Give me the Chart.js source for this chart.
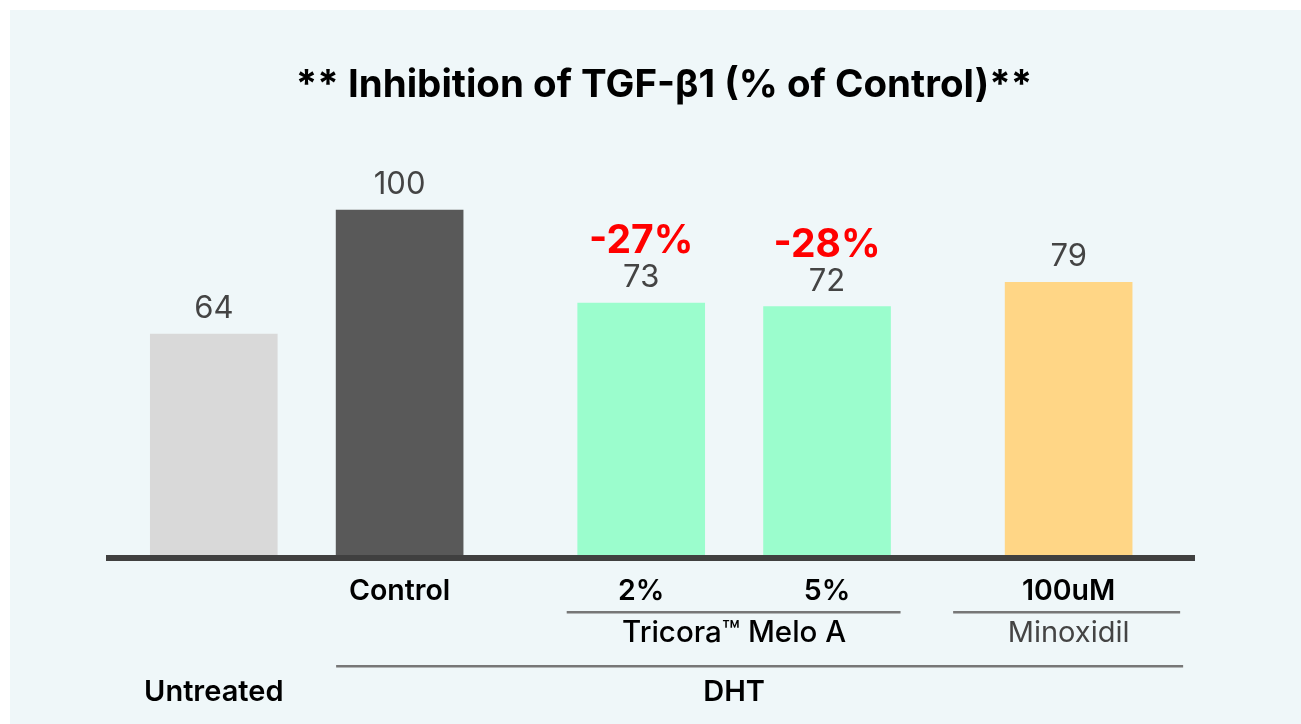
<!DOCTYPE html>
<html>
<head>
<meta charset="utf-8">
<script src="https://cdn.jsdelivr.net/npm/chart.js@4"></script>
<style>
  html, body { margin: 0; padding: 0; background: #ffffff; }
  #wrap { position: absolute; left: 10px; top: 10px; width: 1291px; height: 714px; background: #eff7f9; }
</style>
</head>
<body>
<div id="wrap"><canvas id="myChart" width="1291" height="714"></canvas></div>
<script>
// data
const tickLabels = ["", "Control", "2%", "5%", "100uM"];
const values = [64, 100, 73, 72, 79];
const changeLabels = ["", "", "-27%", "-28%", ""];
const subgroups = ["", "", "Tricora\u2122 Melo A", "Tricora\u2122 Melo A", "Minoxidil"];
const treatments = ["Untreated", "DHT", "DHT", "DHT", "DHT"];
const barColors = ["#d9d9d9", "#595959", "#9bfdcd", "#9bfdcd", "#ffd686"];
const title = "** Inhibition of TGF-\u03b21 (% of Control)**";

const FONT = "Inter, 'Noto Sans', sans-serif";

// x position of each bar: one unit per bar, extra gap when a new sub-group starts
const GROUP_GAP = 0.3;
let xs = [];
let pos = 0;
values.forEach((v, i) => {
    if (i > 0) {
        pos += 1;
        if (subgroups[i] !== subgroups[i - 1] && subgroups[i] !== "") pos += GROUP_GAP;
    }
    xs.push(pos);
});

// extra length of the bracket lines beyond the bar edges [left, right]
const lineExtra = {
    "Tricora\u2122 Melo A": [11, 10],
    "Minoxidil": [52, 48],
    "DHT": [0, 51],
};

const labelsPlugin = {
    id: "labelsPlugin",
    afterDatasetsDraw(chart) {
        const ctx = chart.ctx;
        const area = chart.chartArea;
        const meta = chart.getDatasetMeta(0);
        ctx.save();

        // title
        ctx.fillStyle = "#000";
        ctx.textAlign = "center";
        ctx.textBaseline = "alphabetic";
        ctx.font = "bold 38.5px " + FONT;
        ctx.fillText(title, 654, 87);

        // axis line
        ctx.fillStyle = "#404040";
        ctx.fillRect(area.left, area.bottom, area.right - area.left, 6);

        meta.data.forEach((bar, i) => {
            // value labels
            ctx.fillStyle = "#444";
            ctx.font = "31px " + FONT;
            ctx.fillText(values[i], bar.x, bar.y - 16);
            if (changeLabels[i]) {
                ctx.fillStyle = "#ff0000";
                ctx.font = "bold 39px " + FONT;
                ctx.fillText(changeLabels[i], bar.x, bar.y - 50);
            }
            // tick labels
            if (tickLabels[i]) {
                ctx.fillStyle = "#000";
                ctx.font = "600 28.5px " + FONT;
                ctx.fillText(tickLabels[i], bar.x, area.bottom + 45);
            }
        });

        // bracket rows
        function drawGroups(names, lineY, textY, styleFor) {
            let start = 0;
            for (let i = 1; i <= names.length; i++) {
                if (i === names.length || names[i] !== names[start]) {
                    const name = names[start];
                    if (name) {
                        const b0 = meta.data[start];
                        const b1 = meta.data[i - 1];
                        const left = b0.x - b0.width / 2;
                        const right = b1.x + b1.width / 2;
                        const cx = (left + right) / 2;
                        if (i - 1 > start || subgroups === names) {
                            const ex = lineExtra[name] || [0, 0];
                            ctx.fillStyle = "#777";
                            ctx.fillRect(left - ex[0], lineY - 1, right - left + ex[0] + ex[1], 2.5);
                        }
                        const st = styleFor(name);
                        ctx.fillStyle = st.color;
                        ctx.font = st.font;
                        ctx.fillText(name, cx, textY);
                    }
                    start = i;
                }
            }
        }
        drawGroups(subgroups, area.bottom + 57, area.bottom + 87, name =>
            name === "Minoxidil" ? {color: "#444", font: "29px " + FONT} : {color: "#000", font: "500 29.5px " + FONT});
        drawGroups(treatments, area.bottom + 111, area.bottom + 146, name =>
            ({color: "#000", font: "600 29px " + FONT}));

        ctx.restore();
    }
};

const ctx = document.getElementById("myChart");
const data = {
    datasets: [
        {
            data: values.map((v, i) => ({x: xs[i], y: v})),
            backgroundColor: barColors,
            barThickness: 127,
        },
    ],
};
const config = {
    type: "bar",
    data,
    options: {
        responsive: false,
        animation: false,
        layout: {
            padding: {left: 96, right: 106, top: 131, bottom: 169},
        },
        plugins: {
            legend: {display: false},
            tooltip: {enabled: false},
        },
        scales: {
            x: {
                type: "linear",
                min: -0.58,
                max: 5.28,
                offset: false,
                display: false,
            },
            y: {
                min: 0,
                max: 120,
                display: false,
            },
        },
    },
    plugins: [labelsPlugin],
};
const myChart = new Chart(ctx, config);
</script>
</body>
</html>
